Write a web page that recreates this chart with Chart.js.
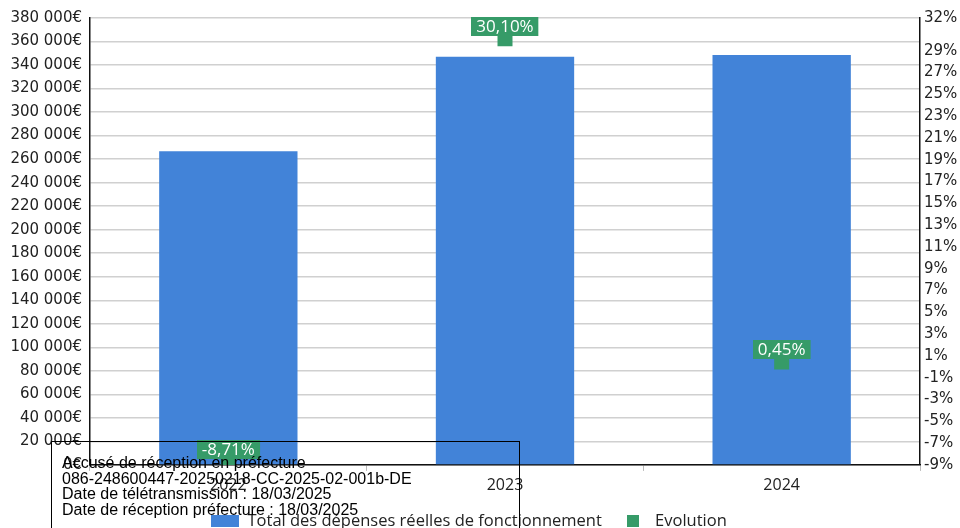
<!DOCTYPE html>
<html>
<head>
<meta charset="utf-8">
<script src="https://cdn.jsdelivr.net/npm/chart.js@4/dist/chart.umd.min.js"></script>
<style>
  html, body { margin: 0; padding: 0; background: #fff; }
  #wrap { position: relative; width: 960px; height: 528px; overflow: hidden; }
  canvas { display: block; }
  #stamp { position: absolute; left: 51px; top: 441px; width: 469px; height: 120px;
           border: 1px solid #000; box-sizing: border-box; }
  #stampText { position: absolute; left: 62px; top: 455px; color: #000; white-space: nowrap;
               font-family: 'Liberation Sans', Arial, sans-serif; font-size: 16px; line-height: 15.7px; }
</style>
</head>
<body>
<div id="wrap">
  <canvas id="c" width="960" height="528"></canvas>
  <div id="stamp"></div>
  <div id="stampText">Accusé de réception en préfecture<br>086-248600447-20250218-CC-2025-02-001b-DE<br>Date de télétransmission : 18/03/2025<br>Date de réception préfecture : 18/03/2025</div>
</div>
<script>
// Années du compte administratif
const years = ['2022', '2023', '2024'];
// Total des dépenses réelles de fonctionnement (€)
const depenses = [266700, 346980, 348540];
// Évolution annuelle (%)
const evolution = [-8.71, 30.10, 0.45];
// Graduations de l'axe des pourcentages
const pctTicks = [-9, -7, -5, -3, -1, 1, 3, 5, 7, 9, 11, 13, 15, 17, 19, 21, 23, 25, 27, 29, 32];

const BLUE = '#4283d8';
const GREEN = '#369b68';

function fmtEuro(v) {
  return String(Math.round(v)).replace(/\B(?=(\d{3})+(?!\d))/g, ' ') + '€';
}
function fmtPct(v) {
  return v.toFixed(2).replace('.', ',') + '%';
}

// Pastilles de légende (une par jeu de données)
function swatch(w, h, color) {
  const c = document.createElement('canvas');
  c.width = w; c.height = h;
  const g = c.getContext('2d');
  g.fillStyle = color;
  g.fillRect(0, 0, w, h);
  return c;
}
const swatches = [swatch(28, 12, BLUE), swatch(12, 12, GREEN)];

// Étiquettes de valeur sur les points d'évolution
const valueLabels = {
  id: 'valueLabels',
  afterDatasetsDraw(chart) {
    const meta = chart.getDatasetMeta(1);
    const ctx = chart.ctx;
    ctx.save();
    ctx.font = '17px "Open Sans"';
    ctx.textAlign = 'center';
    ctx.textBaseline = 'middle';
    meta.data.forEach((pt, i) => {
      const txt = fmtPct(evolution[i]);
      const w = ctx.measureText(txt).width + 10;
      const h = 19;
      const x = Math.round(pt.x - w / 2);
      const y = Math.round(pt.y - 3 - h);
      ctx.fillStyle = GREEN;
      ctx.fillRect(x, y, w, h);
      ctx.fillStyle = '#fff';
      ctx.fillText(txt, pt.x, y + h / 2 + 1);
    });
    ctx.restore();
  }
};

// Décalage de la légende
const legendShift = {
  id: 'legendShift',
  afterLayout(chart) {
    const lg = chart.legend;
    if (!lg) return;
    lg.left -= 11; lg.right -= 11;
    lg.top -= 4; lg.bottom -= 4;
  }
};

new Chart(document.getElementById('c'), {
  data: {
    labels: years,
    datasets: [
      {
        type: 'bar',
        label: 'Total des dépenses réelles de fonctionnement',
        data: depenses,
        backgroundColor: BLUE,
        yAxisID: 'y',
        barPercentage: 0.5,
        categoryPercentage: 1,
        order: 2
      },
      {
        type: 'line',
        label: 'Evolution',
        data: evolution,
        yAxisID: 'y1',
        showLine: false,
        pointStyle: 'rect',
        pointRadius: 10.6,
        pointHoverRadius: 10.6,
        backgroundColor: GREEN,
        borderColor: GREEN,
        pointBorderWidth: 0,
        order: 1
      }
    ]
  },
  options: {
    responsive: false,
    animation: false,
    devicePixelRatio: 1,
    layout: { padding: { top: 18, left: 0, right: 0, bottom: -15.6 } },
    plugins: {
      tooltip: { enabled: false },
      legend: {
        position: 'bottom',
        labels: {
          usePointStyle: true,
          pointStyleWidth: 28,
          boxHeight: 12,
          padding: 17,
          color: '#222',
          font: { family: 'Open Sans', size: 16.5 },
          sort: (a, b) => a.datasetIndex - b.datasetIndex,
          generateLabels(chart) {
            const items = Chart.defaults.plugins.legend.labels.generateLabels(chart);
            items.forEach(it => { it.pointStyle = swatches[it.datasetIndex]; });
            return items;
          }
        }
      }
    },
    scales: {
      x: {
        type: 'category',
        offset: true,
        grid: { display: true, drawOnChartArea: false, drawTicks: true, tickLength: 6, color: '#bbbbbb', offset: true },
        border: { color: '#111', width: 1.5 },
        ticks: { color: '#222', padding: 5, font: { family: 'Open Sans', size: 16 } }
      },
      y: {
        position: 'left',
        min: 0,
        max: 380000,
        grid: { color: '#d0d0d0', lineWidth: 1.5, drawTicks: false },
        border: { color: '#111', width: 1.5 },
        ticks: { stepSize: 20000, padding: 8, color: '#222', font: { family: 'DejaVu Sans', size: 15 }, callback: fmtEuro },
        afterFit(s) { s.width = 90; }
      },
      y1: {
        position: 'right',
        min: -9,
        max: 32,
        grid: { drawOnChartArea: false, drawTicks: false },
        border: { color: '#111', width: 1.5 },
        ticks: { padding: 4, color: '#222', font: { family: 'DejaVu Sans', size: 15 }, callback: v => v + '%' },
        afterBuildTicks(s) { s.ticks = pctTicks.map(v => ({ value: v })); },
        afterFit(s) { s.width = 40; }
      }
    }
  },
  plugins: [valueLabels, legendShift]
});
</script>
</body>
</html>
